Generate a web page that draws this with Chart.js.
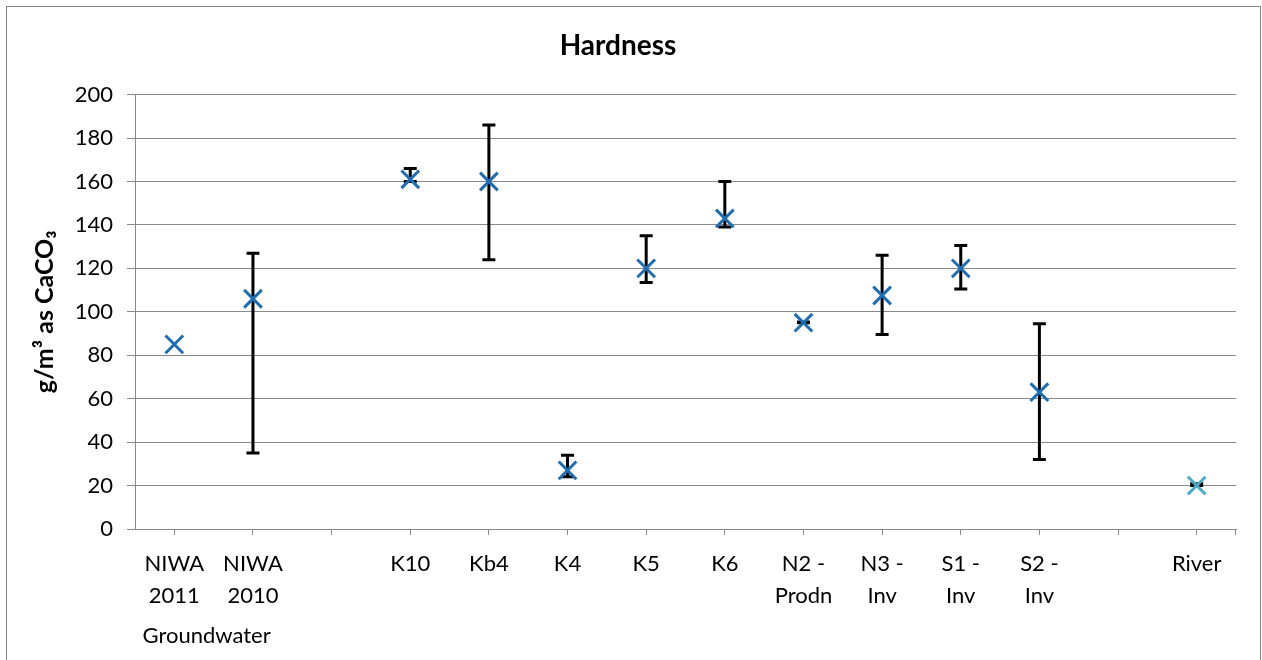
<!DOCTYPE html>
<html lang="en">
<head>
  <meta charset="UTF-8">
  <title>Hardness</title>
  <style>
    body { margin: 0; background: #ffffff; }
    .canvas_box { width: 1262px; height: 660px; }
  </style>
  <script src="https://cdn.jsdelivr.net/npm/chart.js@4.4.6/dist/chart.umd.min.js"></script>
</head>
<body>
<div class="canvas_box">
  <canvas id="myChart" width="1262" height="660"></canvas>
</div>
<script>
// categories (empty strings are the gaps between groups)
var categories = [
  ['NIWA', '2011'], ['NIWA', '2010'], '', 'K10', 'Kb4', 'K4', 'K5', 'K6',
  ['N2 -', 'Prodn'], ['N3 -', 'Inv'], ['S1 -', 'Inv'], ['S2 -', 'Inv'], '', 'River'
];
var groupLabel = 'Groundwater';

// mean hardness, g/m3 as CaCO3
var wellValues  = [85, 106, null, 161, 160, 27, 120, 143, 95, 107.5, 120, 63, null, null];
var riverValues = [null, null, null, null, null, null, null, null, null, null, null, null, null, 20];

// error bar range (min / max)
var errLow  = [null, 35, null, 160, 124, 24, 113.5, 139, 95, 89.5, 110.5, 32, null, 20];
var errHigh = [null, 127, null, 166, 186, 34, 135, 160, 95.3, 126, 130.5, 94.5, null, 20.8];

var yTicks = { min: 0, max: 200, step: 20 };

var FONT = 'Lato, "Open Sans", sans-serif';

var errorBars = {
  id: 'errorBars',
  beforeDatasetsDraw: function(chart) {
    var ctx = chart.ctx, xs = chart.scales.x, ys = chart.scales.y;
    ctx.save();
    ctx.strokeStyle = '#000000';
    ctx.lineWidth = 3;
    for (var i = 0; i < errLow.length; i++) {
      if (errLow[i] === null) continue;
      var x = xs.getPixelForValue(i);
      var y1 = ys.getPixelForValue(errLow[i]);
      var y2 = ys.getPixelForValue(errHigh[i]);
      ctx.beginPath();
      ctx.moveTo(x, y1); ctx.lineTo(x, y2);
      ctx.moveTo(x - 6.5, y1); ctx.lineTo(x + 6.5, y1);
      ctx.moveTo(x - 6.5, y2); ctx.lineTo(x + 6.5, y2);
      ctx.stroke();
    }
    ctx.restore();
  },
  afterDraw: function(chart) {
    var ctx = chart.ctx, xs = chart.scales.x, area = chart.chartArea;
    ctx.save();
    // last tick mark at the end of the category axis
    ctx.strokeStyle = '#898989';
    ctx.lineWidth = 1;
    ctx.beginPath();
    ctx.moveTo(area.right - 0.5, area.bottom);
    ctx.lineTo(area.right - 0.5, area.bottom + 6);
    ctx.stroke();
    // group label under the first two categories
    ctx.fillStyle = '#000000';
    ctx.font = '22px ' + FONT;
    ctx.textAlign = 'center';
    ctx.textBaseline = 'middle';
    var gx = (xs.getPixelForValue(0) + xs.getPixelForValue(1)) / 2 - 7;
    ctx.fillText(groupLabel, gx, area.bottom + 107);
    // chart frame
    ctx.strokeStyle = '#868686';
    ctx.strokeRect(6.5, 6.5, chart.width - 8, chart.height + 40);
    ctx.restore();
  }
};

var ctx = document.getElementById('myChart');
var myChart = new Chart(ctx, {
  type: 'line',
  plugins: [errorBars],
  data: {
    labels: categories,
    datasets: [
      {
        label: 'Wells',
        data: wellValues,
        showLine: false,
        pointStyle: 'crossRot',
        pointRadius: 12.5,
        pointBorderWidth: 3,
        borderColor: '#1F6EB3',
        backgroundColor: '#1F6EB3'
      },
      {
        label: 'River',
        data: riverValues,
        showLine: false,
        pointStyle: 'crossRot',
        pointRadius: 12.5,
        pointBorderWidth: 3,
        borderColor: '#4BACC6',
        backgroundColor: '#4BACC6'
      }
    ]
  },
  options: {
    responsive: false,
    animation: false,
    layout: {
      padding: { left: 0, right: 26, top: 0, bottom: 0 }
    },
    plugins: {
      legend: { display: false },
      tooltip: { enabled: false },
      title: {
        display: true,
        text: 'Hardness',
        color: '#000000',
        padding: { top: 29, bottom: 32 },
        font: { family: FONT, size: 28, weight: 'bold', lineHeight: 1.2 }
      }
    },
    scales: {
      x: {
        offset: true,
        grid: {
          offset: false,
          drawOnChartArea: false,
          color: '#898989',
          tickLength: 6
        },
        border: { color: '#898989', width: 1 },
        ticks: {
          color: '#000000',
          autoSkip: false,
          maxRotation: 0,
          padding: 13,
          font: { family: FONT, size: 22, lineHeight: 1.45 }
        },
        afterFit: function(scale) { scale.height = 131; }
      },
      y: {
        min: yTicks.min,
        max: yTicks.max,
        grid: {
          color: '#898989',
          tickLength: 8
        },
        border: { color: '#898989', width: 1 },
        ticks: {
          stepSize: yTicks.step,
          color: '#000000',
          padding: 14,
          font: { family: FONT, size: 22 }
        },
        title: {
          display: true,
          text: 'g/m³ as CaCO₃',
          color: '#000000',
          padding: { top: 30, bottom: 0 },
          font: { family: FONT, size: 25, weight: 'bold' }
        },
        afterFit: function(scale) { scale.width = 135; }
      }
    }
  }
});
</script>
</body>
</html>
